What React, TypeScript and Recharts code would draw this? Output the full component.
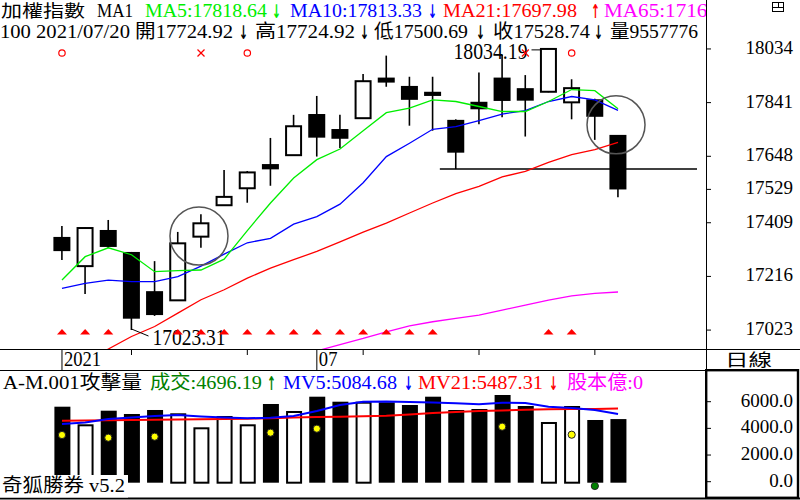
import React from 'react';
import { ComposedChart, Bar, Line, Scatter, XAxis, YAxis, ReferenceDot, ReferenceLine } from 'recharts';

// ---------- data ----------
const dates = [
  '2021/06/16', '2021/06/17', '2021/06/18', '2021/06/21', '2021/06/22', '2021/06/23', '2021/06/24',
  '2021/06/25', '2021/06/28', '2021/06/29', '2021/06/30', '2021/07/01', '2021/07/02', '2021/07/05',
  '2021/07/06', '2021/07/07', '2021/07/08', '2021/07/09', '2021/07/12', '2021/07/13', '2021/07/14',
  '2021/07/15', '2021/07/16', '2021/07/19', '2021/07/20',
];
const opens = [17358, 17253, 17383, 17304, 17163, 17130, 17359, 17472, 17533, 17620, 17652, 17800, 17746, 17785, 17931, 17901, 17880, 17779, 17844, 17931, 17893, 17880, 17842, 17853, 17724.92];
const highs = [17397, 17392, 17419, 17304, 17271, 17376, 17440, 17599, 17595, 17714, 17797, 17865, 17797, 17944, 18010, 17934, 17934, 17781, 17949, 18012, 17940, 18034.19, 17925, 17855, 17724.92];
const lows = [17275, 17153, 17318, 17023.31, 17074, 17128, 17319, 17470, 17481, 17542, 17650, 17647, 17678, 17784, 17898, 17758, 17740, 17602, 17763, 17788, 17719, 17878, 17781, 17707, 17500.69];
const closes = [17307, 17390, 17322, 17064, 17077, 17335, 17407, 17502, 17590, 17601, 17756, 17715, 17711, 17918, 17913, 17851, 17865, 17661, 17817, 17847, 17848, 18034, 17893, 17790, 17528.74];

const ma5 = [17203, 17287, 17319, 17294, 17233, 17237, 17239, 17278, 17381, 17480, 17570, 17636, 17674, 17740, 17805, 17821, 17851, 17845, 17827, 17809, 17809, 17845, 17888, 17884, 17818.64];
const ma10 = [17173, 17191, 17203, 17197, 17197, 17215, 17253, 17296, 17337, 17353, 17404, 17431, 17476, 17553, 17647, 17695, 17745, 17755, 17776, 17800, 17812, 17845, 17863, 17851, 17813.33];
const ma21 = [16876, 16915, 16955, 17000, 17036, 17084, 17132, 17168, 17210, 17246, 17276, 17306, 17340, 17375, 17408, 17444, 17480, 17514, 17540, 17574, 17594, 17626, 17654, 17672, 17697.98];
const ma65 = [null, null, null, null, null, null, null, null, null, null, null, 16948, 16971, 16993, 17017, 17038, 17053, 17065, 17077, 17095, 17113, 17131, 17146, 17155, 17160];

const volumes = [5625, 4305, 5325, 5078, 5378, 5130, 4080, 4928, 4305, 5828, 5303, 6375, 6000, 6000, 5955, 5753, 6375, 5378, 5453, 6503, 5678, 4478, 5678, 4628, 4696.19];
const mv5 = [4328, 4440, 4703, 4815, 4928, 5003, 4890, 4815, 4755, 4800, 4928, 5303, 5753, 6000, 6015, 5978, 5940, 5880, 5805, 5925, 5903, 5625, 5528, 5378, 5084.68];
const mv21 = [4575, 4590, 4605, 4628, 4643, 4658, 4680, 4703, 4725, 4755, 4815, 4853, 4875, 4913, 4943, 5040, 5153, 5228, 5303, 5340, 5393, 5430, 5453, 5445, 5487.31];
const yellowDots = [3503, null, 3300, null, 3375, null, null, null, null, 3675, null, 3975, null, null, null, null, null, null, null, 4125, null, null, 3525, null, null];
const greenDots = [null, null, null, null, null, null, null, null, null, null, null, null, null, null, null, null, null, null, null, null, null, null, null, -322, null];

const buyDates = ['2021/06/16', '2021/06/17', '2021/06/18', '2021/06/23', '2021/06/24', '2021/06/25', '2021/06/28', '2021/06/29', '2021/06/30', '2021/07/01', '2021/07/02', '2021/07/05', '2021/07/06', '2021/07/07', '2021/07/08', '2021/07/15', '2021/07/16'];
const circleMarkDates = ['2021/06/16', '2021/06/28', '2021/07/16'];
const crossMarkDates = ['2021/06/24', '2021/07/14'];
const ringDates = ['2021/06/24', '2021/07/20'];
const ringPrices = [17361, 17761];
const supportPrice = 17602;
const supportFrom = '2021/07/09';
const supportTo = '2021/07/20';

const priceTicks = [17023, 17216, 17409, 17529, 17648, 17841, 18034];
const volTicks = [0, 2000, 4000, 6000];

const header1 = {
  title: '加權指數', ma1: 'MA1',
  ma5: 'MA5:17818.64', ma10: 'MA10:17813.33', ma21: 'MA21:17697.98', ma65: 'MA65:17160',
};
const header2 = {
  lead: '100 2021/07/20 開17724.92', high: '高17724.92', low: '低17500.69', close: '收17528.74', vol: '量9557776',
};
const volHeader = {
  title: 'A-M.001攻擊量', deal: '成交:4696.19', mv5: 'MV5:5084.68', mv21: 'MV21:5487.31', cap: '股本億:0',
};
const periodLabel = '日線';
const brand = '奇狐勝券 v5.2';

// ---------- build rows ----------
const priceRows = dates.map((date, i) => ({
  date,
  open: opens[i], high: highs[i], low: lows[i], close: closes[i],
  range: [lows[i], highs[i]],
  ma5: ma5[i], ma10: ma10[i], ma21: ma21[i], ma65: ma65[i],
  buy: buyDates.includes(date),
  mark: circleMarkDates.includes(date) ? 'o' : crossMarkDates.includes(date) ? 'x' : null,
}));

const volRows = dates.map((date, i) => ({
  date,
  vol: volumes[i],
  up: closes[i] >= opens[i],
  mv5: mv5[i], mv21: mv21[i],
  yd: yellowDots[i], gd: greenDots[i],
}));

const hiIdx = highs.indexOf(Math.max(...highs));
const loIdx = lows.indexOf(Math.min(...lows));

// ---------- styles ----------
const FONT = '"Liberation Serif", "Noto Sans CJK TC", serif';
const CJK = '"Noto Sans CJK TC", "Liberation Serif", sans-serif';
const ARROW = '"DejaVu Sans", sans-serif';
const GREEN = '#00ee00';
const DKGREEN = '#008000';
const BLUE = '#0000ff';
const RED = '#ff0000';
const MAGENTA = '#ff00ff';
const MARK_ROW_Y = 53;
const BUY_ROW_Y = 332;

// ---------- shapes ----------
const Candle = (props: any) => {
  const { x, y, width, height, payload } = props;
  if (!payload || !isFinite(y) || !isFinite(height)) return <g />;
  const top = Math.min(y, y + height);
  const h = Math.abs(height);
  const { open, close, high, low } = payload;
  const span = high - low;
  const py = (v: number) => (span > 0 ? top + ((high - v) / span) * h : top);
  const cx = x + width / 2;
  const up = close >= open;
  const bTop = py(Math.max(open, close));
  const bBot = py(Math.min(open, close));
  return (
    <g>
      <line x1={cx} x2={cx} y1={top} y2={top + h} stroke="#000" strokeWidth={1.6} />
      {up ? (
        <rect x={x + 1} y={bTop} width={width - 2} height={Math.max(bBot - bTop, 1)} fill="#fff" stroke="#000" strokeWidth={2} />
      ) : (
        <rect x={x} y={bTop} width={width} height={Math.max(bBot - bTop, 2)} fill="#000" />
      )}
    </g>
  );
};

const BuyShape = (props: any) => {
  const { cx, payload } = props;
  if (!payload || !payload.buy) return <g />;
  return (
    <polygon
      points={`${cx - 5},${BUY_ROW_Y + 2.5} ${cx + 5},${BUY_ROW_Y + 2.5} ${cx},${BUY_ROW_Y - 3}`}
      fill={RED}
    />
  );
};

const MarkShape = (props: any) => {
  const { cx, payload } = props;
  if (!payload || !payload.mark) return <g />;
  if (payload.mark === 'o') {
    return <circle cx={cx} cy={MARK_ROW_Y} r={3.2} fill="none" stroke={RED} strokeWidth={1.2} />;
  }
  return (
    <g stroke={RED} strokeWidth={1.2}>
      <line x1={cx - 3.5} y1={MARK_ROW_Y - 3.5} x2={cx + 3.5} y2={MARK_ROW_Y + 3.5} />
      <line x1={cx - 3.5} y1={MARK_ROW_Y + 3.5} x2={cx + 3.5} y2={MARK_ROW_Y - 3.5} />
    </g>
  );
};

const VolBar = (props: any) => {
  const { x, y, width, height, payload } = props;
  if (!payload || !isFinite(y) || !isFinite(height)) return <g />;
  const top = Math.min(y, y + height);
  const h = Math.abs(height);
  if (payload.up) {
    return <rect x={x + 1} y={top + 1} width={width - 2} height={h} fill="#fff" stroke="#000" strokeWidth={2} />;
  }
  return <rect x={x} y={top} width={width} height={h + 1} fill="#000" />;
};

const DotShape = (key: 'yd' | 'gd', color: string) => (props: any) => {
  const { cx, cy, payload } = props;
  if (!payload || payload[key] == null || !isFinite(cy)) return <g />;
  return <circle cx={cx} cy={cy} r={3.6} fill={color} stroke="#222" strokeWidth={1} />;
};

const PriceTick = (props: any) => (
  <text x={793} y={props.y + 5} textAnchor="end" fontFamily={FONT} fontSize={19} fill="#000">
    {props.payload.value}
  </text>
);

const VolTick = (props: any) => (
  <text x={793} y={props.y + 5} textAnchor="end" fontFamily={FONT} fontSize={19} fill="#000">
    {Number(props.payload.value).toFixed(1)}
  </text>
);

const parseDate = (d: string) => d.split('/').map(Number);

const DateTick = (props: any) => {
  const value = props.payload && props.payload.value;
  const i = dates.indexOf(value);
  if (i < 0) return <g />;
  const [yy, mm, dd] = parseDate(value);
  const prev = i > 0 ? parseDate(dates[i - 1]) : null;
  const dow = new Date(yy, mm - 1, dd).getDay();
  const prevDow = prev ? new Date(prev[0], prev[1] - 1, prev[2]).getDay() : -1;
  const isYear = i === 0 || (prev !== null && prev[0] !== yy);
  const isMonth = !isYear && prev !== null && prev[1] !== mm;
  const isWeek = prev !== null && dow < prevDow;
  if (!isYear && !isMonth && !isWeek) return <g />;
  const long = isYear || isMonth;
  const label = isYear ? String(yy) : String(mm).padStart(2, '0');
  return (
    <g>
      <line x1={props.x} x2={props.x} y1={props.y} y2={props.y + (long ? 21 : 6)} stroke="#000" strokeWidth={1} />
      {long && (
        <text x={props.x + 2} y={props.y + 17} fontFamily={FONT} fontSize={21} fill="#000"
          textLength={label.length * 9.3} lengthAdjust="spacingAndGlyphs">
          {label}
        </text>
      )}
    </g>
  );
};

const Seg = ({ x, y, w, color = '#000', size = 19, family = FONT, children }: any) => (
  <text x={x} y={y} fill={color} fontSize={size} fontFamily={family} textLength={w} lengthAdjust="spacingAndGlyphs">
    {children}
  </text>
);

const Arrow = ({ x, y, up = false, color = '#000' }: any) => (
  <text transform={`translate(${x} ${y}) scale(0.56 1)`} fill={color} fontSize={19} fontFamily={ARROW} fontWeight="bold">
    {up ? '↑' : '↓'}
  </text>
);

export default function App() {
  return (
    <div style={{ position: 'absolute', left: 0, top: 0, width: 800, height: 500, background: '#fff', overflow: 'hidden' }}>
      <div style={{ position: 'absolute', left: 0, top: 0 }}>
        <ComposedChart width={800} height={370} data={priceRows} margin={{ top: 0, right: 0, bottom: 0, left: 0 }}>
          <XAxis dataKey="date" height={21} padding={{ left: 50.4, right: 76.4 }} interval={0}
            tickLine={false} axisLine={false} tickSize={0} tickMargin={0} tick={DateTick} />
          <YAxis orientation="right" width={94} domain={[16955, 18210]} ticks={priceTicks} allowDataOverflow
            axisLine={false} tickLine={{ stroke: '#000' }} tickSize={5} tick={PriceTick} interval={0} />
          <ReferenceLine
            segment={[{ x: supportFrom, y: supportPrice }, { x: supportTo, y: supportPrice }]}
            stroke="#000"
            shape={(p: any) => (
              <line x1={p.x1 - 16} y1={p.y1} x2={p.x2 + 79} y2={p.y2} stroke="#000" strokeWidth={1.5} />
            )}
          />
          <Line dataKey="ma65" stroke={MAGENTA} strokeWidth={1.3} dot={false} activeDot={false} isAnimationActive={false} />
          <Line dataKey="ma21" stroke={RED} strokeWidth={1.3} dot={false} activeDot={false} isAnimationActive={false} />
          <Line dataKey="ma10" stroke={BLUE} strokeWidth={1.3} dot={false} activeDot={false} isAnimationActive={false} />
          <Line dataKey="ma5" stroke={GREEN} strokeWidth={1.3} dot={false} activeDot={false} isAnimationActive={false} />
          <Bar dataKey="range" barSize={17} shape={Candle} isAnimationActive={false} />
          {ringDates.map((d, k) => (
            <ReferenceDot key={d} x={d} y={ringPrices[k]} r={29}
              shape={(p: any) => <circle cx={p.cx - 2} cy={p.cy} r={29} fill="none" stroke="#555" strokeWidth={1.5} />} />
          ))}
          <ReferenceDot x={dates[hiIdx]} y={highs[hiIdx]} r={1}
            shape={(p: any) => (
              <g>
                <line x1={p.cx - 17} y1={p.cy + 1} x2={p.cx - 8} y2={p.cy + 1} stroke="#000" strokeWidth={1} />
                <text x={p.cx - 95} y={p.cy + 10} fontFamily={FONT} fontSize={23} fill="#000"
                  textLength={74} lengthAdjust="spacingAndGlyphs">{highs[hiIdx].toFixed(2)}</text>
              </g>
            )} />
          <ReferenceDot x={dates[loIdx]} y={lows[loIdx]} r={1}
            shape={(p: any) => (
              <g>
                <line x1={p.cx} y1={p.cy - 1} x2={p.cx + 17} y2={p.cy + 6} stroke="#000" strokeWidth={1} />
                <text x={p.cx + 21} y={p.cy + 15} fontFamily={FONT} fontSize={23} fill="#000"
                  textLength={73} lengthAdjust="spacingAndGlyphs">{lows[loIdx].toFixed(2)}</text>
              </g>
            )} />
          <Scatter dataKey="close" shape={MarkShape} isAnimationActive={false} legendType="none" />
          <Scatter dataKey="low" shape={BuyShape} isAnimationActive={false} legendType="none" />
        </ComposedChart>
      </div>

      <div style={{ position: 'absolute', left: 0, top: 370 }}>
        <ComposedChart width={800} height={128} data={volRows} margin={{ top: 0, right: 0, bottom: 0, left: 0 }}>
          <XAxis dataKey="date" hide padding={{ left: 50.4, right: 76.4 }} />
          <YAxis orientation="right" width={94} domain={[-1222.5, 8377.5]} ticks={volTicks} allowDataOverflow
            axisLine={false} tickLine={{ stroke: '#000' }} tickSize={5} tick={VolTick} interval={0} />
          <Bar dataKey="vol" barSize={16} shape={VolBar} isAnimationActive={false} />
          <Line dataKey="mv21" stroke={RED} strokeWidth={2} dot={false} activeDot={false} isAnimationActive={false} />
          <Line dataKey="mv5" stroke={BLUE} strokeWidth={2} dot={false} activeDot={false} isAnimationActive={false} />
          <Scatter dataKey="yd" shape={DotShape('yd', '#ffff00')} isAnimationActive={false} legendType="none" />
          <Scatter dataKey="gd" shape={DotShape('gd', DKGREEN)} isAnimationActive={false} legendType="none" />
        </ComposedChart>
      </div>

      <svg width={800} height={500} style={{ position: 'absolute', left: 0, top: 0, pointerEvents: 'none' }}>
        <defs>
          <clipPath id="hdrclip"><rect x={0} y={0} width={706} height={60} /></clipPath>
        </defs>
        {/* frame */}
        <line x1={0} y1={349.5} x2={800} y2={349.5} stroke="#000" strokeWidth={1} />
        <line x1={0} y1={370.5} x2={706} y2={370.5} stroke="#000" strokeWidth={1} />
        <line x1={706.5} y1={0} x2={706.5} y2={370} stroke="#000" strokeWidth={1} />
        <rect x={706.2} y={370.2} width={91.8} height={127.6} fill="none" stroke="#000" strokeWidth={2.4} />
        <line x1={0} y1={498.5} x2={800} y2={498.5} stroke="#000" strokeWidth={2} />
        {/* window icon */}
        <g stroke="#000" strokeWidth={1} fill="none">
          <rect x={772.5} y={2.5} width={11} height={9} />
          <line x1={772.5} y1={7.5} x2={783.5} y2={7.5} />
          <line x1={778.5} y1={2.5} x2={778.5} y2={7.5} />
        </g>

        {/* header line 1 */}
        <g clipPath="url(#hdrclip)">
          <Seg x={1} y={16.5} w={84} family={CJK} size={17}>{header1.title}</Seg>
          <Seg x={97} y={17} w={36}>{header1.ma1}</Seg>
          <Seg x={145} y={17} w={122} color={GREEN}>{header1.ma5}</Seg>
          <Arrow x={272} y={18} color={GREEN} />
          <Seg x={290} y={17} w={132} color={BLUE}>{header1.ma10}</Seg>
          <Arrow x={428} y={18} color={BLUE} />
          <Seg x={443} y={17} w={134} color={RED}>{header1.ma21}</Seg>
          <Arrow x={591} y={18} up color={RED} />
          <Seg x={604} y={17} w={114} color={MAGENTA}>{header1.ma65}</Seg>
        </g>

        {/* header line 2 */}
        <Seg x={0} y={38} w={233}>{header2.lead}</Seg>
        <Arrow x={239} y={39} />
        <Seg x={255} y={38} w={100}>{header2.high}</Seg>
        <Arrow x={360} y={39} />
        <Seg x={374} y={38} w={94}>{header2.low}</Seg>
        <Arrow x={476} y={39} />
        <Seg x={493} y={38} w={97}>{header2.close}</Seg>
        <Arrow x={594} y={39} />
        <Seg x={610} y={38} w={88}>{header2.vol}</Seg>

        {/* period label */}
        <Seg x={725} y={366} w={47} family={CJK} size={17}>{periodLabel}</Seg>

        {/* volume header */}
        <Seg x={3} y={389} w={139}>{volHeader.title}</Seg>
        <Seg x={150} y={389} w={112} color={DKGREEN}>{volHeader.deal}</Seg>
        <Arrow x={267} y={390} up color={DKGREEN} />
        <Seg x={283} y={389} w={114} color={BLUE}>{volHeader.mv5}</Seg>
        <Arrow x={404} y={390} color={BLUE} />
        <Seg x={418} y={389} w={125} color={RED}>{volHeader.mv21}</Seg>
        <Arrow x={549} y={390} color={RED} />
        <Seg x={567} y={389} w={76} color={MAGENTA}>{volHeader.cap}</Seg>

        {/* brand */}
        <rect x={0} y={475} width={128} height={22.5} fill="#fff" />
        <Seg x={2} y={492} w={123}>{brand}</Seg>
      </svg>
    </div>
  );
}
